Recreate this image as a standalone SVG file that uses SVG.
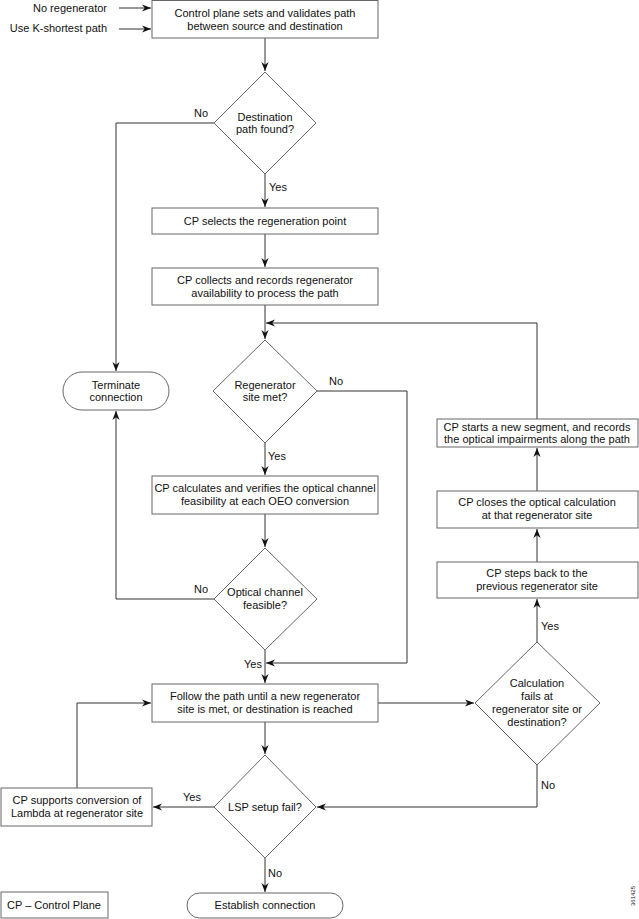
<svg xmlns="http://www.w3.org/2000/svg" width="639" height="919" viewBox="0 0 639 919">
<style>
text{font-family:"Liberation Sans",Arial,sans-serif;font-size:11px;fill:#111;}
.c{text-anchor:middle;}
.r{text-anchor:end;}
.box{fill:#fff;stroke:#666;stroke-width:1;}
.conn{fill:none;stroke:#333;stroke-width:1;}
</style>
<defs>
<marker id="ah" viewBox="0 0 10 10" refX="10" refY="5" markerWidth="9" markerHeight="9" markerUnits="userSpaceOnUse" orient="auto">
<path d="M0,1 L10,5 L0,9 L3,5 Z" fill="#111"/>
</marker>
</defs>
<rect width="639" height="919" fill="#fff"/>
<g id="connectors">
<path class="conn" d="M119,8 H151" marker-end="url(#ah)"/>
<path class="conn" d="M119,29 H151" marker-end="url(#ah)"/>
<path class="conn" d="M265,38 V71" marker-end="url(#ah)"/>
<path class="conn" d="M214,123 H116 V371" marker-end="url(#ah)"/>
<path class="conn" d="M265,174 V207" marker-end="url(#ah)"/>
<path class="conn" d="M265,234 V267" marker-end="url(#ah)"/>
<path class="conn" d="M265,305 V339" marker-end="url(#ah)"/>
<path class="conn" d="M537,419 V323 H266" marker-end="url(#ah)"/>
<path class="conn" d="M317,391 H407 V663 H266" marker-end="url(#ah)"/>
<path class="conn" d="M265,443 V475" marker-end="url(#ah)"/>
<path class="conn" d="M265,514 V547" marker-end="url(#ah)"/>
<path class="conn" d="M214,599 H116 V411" marker-end="url(#ah)"/>
<path class="conn" d="M265,650 V683" marker-end="url(#ah)"/>
<path class="conn" d="M378,703 H474" marker-end="url(#ah)"/>
<path class="conn" d="M537,642 V599" marker-end="url(#ah)"/>
<path class="conn" d="M537,562 V529" marker-end="url(#ah)"/>
<path class="conn" d="M537,491 V448" marker-end="url(#ah)"/>
<path class="conn" d="M537,765 V807 H317" marker-end="url(#ah)"/>
<path class="conn" d="M265,722 V754" marker-end="url(#ah)"/>
<path class="conn" d="M214,807 H153" marker-end="url(#ah)"/>
<path class="conn" d="M77,788 V703 H151" marker-end="url(#ah)"/>
<path class="conn" d="M265,858 V892" marker-end="url(#ah)"/>
</g>
<g id="labels">
<text class="r" x="107" y="12">No regenerator</text>
<text class="r" x="107" y="32">Use K-shortest path</text>
<text x="194" y="117">No</text>
<text x="269" y="191">Yes</text>
<text x="329" y="385">No</text>
<text x="268" y="460">Yes</text>
<text x="194" y="593">No</text>
<text x="244" y="668">Yes</text>
<text x="541" y="630">Yes</text>
<text x="541" y="789">No</text>
<text x="183" y="801">Yes</text>
<text x="268" y="877">No</text>
</g>
<g id="n-start">
<rect class="box" x="152" y="0.5" width="226" height="37.5"/>
<text class="c" x="265" y="17">Control plane sets and validates path</text>
<text class="c" x="265" y="30">between source and destination</text>
</g>
<g id="n-destfound">
<polygon class="box" points="265,72 316,123 265,174 214,123"/>
<text class="c" x="265" y="121">Destination</text>
<text class="c" x="265" y="133">path found?</text>
</g>
<g id="n-select">
<rect class="box" x="152" y="208" width="226" height="26"/>
<text class="c" x="265" y="225">CP selects the regeneration point</text>
</g>
<g id="n-collect">
<rect class="box" x="152" y="268" width="226" height="37"/>
<text class="c" x="265" y="284">CP collects and records regenerator</text>
<text class="c" x="265" y="297">availability to process the path</text>
</g>
<g id="n-terminate">
<rect class="box" x="63" y="372" width="106" height="38" rx="19"/>
<text class="c" x="116" y="389">Terminate</text>
<text class="c" x="116" y="401">connection</text>
</g>
<g id="n-regsite">
<polygon class="box" points="265,340 317,391 265,443 213,391"/>
<text class="c" x="265" y="389">Regenerator</text>
<text class="c" x="265" y="401">site met?</text>
</g>
<g id="n-calc">
<rect class="box" x="152" y="476" width="226" height="38"/>
<text class="c" x="265" y="492">CP calculates and verifies the optical channel</text>
<text class="c" x="265" y="505">feasibility at each OEO conversion</text>
</g>
<g id="n-feasible">
<polygon class="box" points="265,548 317,599 265,650 214,599"/>
<text class="c" x="265" y="596">Optical channel</text>
<text class="c" x="265" y="609">feasible?</text>
</g>
<g id="n-follow">
<rect class="box" x="152" y="684" width="226" height="38"/>
<text class="c" x="265" y="700">Follow the path until a new regenerator</text>
<text class="c" x="265" y="713">site is met, or destination is reached</text>
</g>
<g id="n-newseg">
<rect class="box" x="437" y="419" width="201" height="28"/>
<text class="c" x="537" y="431">CP starts a new segment, and records</text>
<text class="c" x="537" y="443">the optical impairments along the path</text>
</g>
<g id="n-close">
<rect class="box" x="437" y="491" width="201" height="37"/>
<text class="c" x="537" y="506">CP closes the optical calculation</text>
<text class="c" x="537" y="519">at that regenerator site</text>
</g>
<g id="n-stepback">
<rect class="box" x="437" y="562" width="201" height="36"/>
<text class="c" x="537" y="577">CP steps back to the</text>
<text class="c" x="537" y="590">previous regenerator site</text>
</g>
<g id="n-calcfail">
<polygon class="box" points="537,642 600,703 537,765 475,703"/>
<text class="c" x="537" y="687">Calculation</text>
<text class="c" x="537" y="700">fails at</text>
<text class="c" x="537" y="713">regenerator site or</text>
<text class="c" x="537" y="726">destination?</text>
</g>
<g id="n-lsp">
<polygon class="box" points="265,755 316,807 265,858 214,807"/>
<text class="c" x="265" y="811">LSP setup fail?</text>
</g>
<g id="n-lambda">
<rect class="box" x="1" y="788" width="151" height="38"/>
<text class="c" x="77" y="804">CP supports conversion of</text>
<text class="c" x="77" y="817">Lambda at regenerator site</text>
</g>
<g id="n-establish">
<rect class="box" x="187" y="893" width="156" height="25" rx="12.5"/>
<text class="c" x="265" y="909">Establish connection</text>
</g>
<g id="n-legend">
<rect class="box" x="1" y="892" width="107" height="26"/>
<text x="7" y="909">CP – Control Plane</text>
</g>
<text x="0" y="0" transform="translate(635,906) rotate(-90)" style="font-size:6px;">361425</text>
</svg>
